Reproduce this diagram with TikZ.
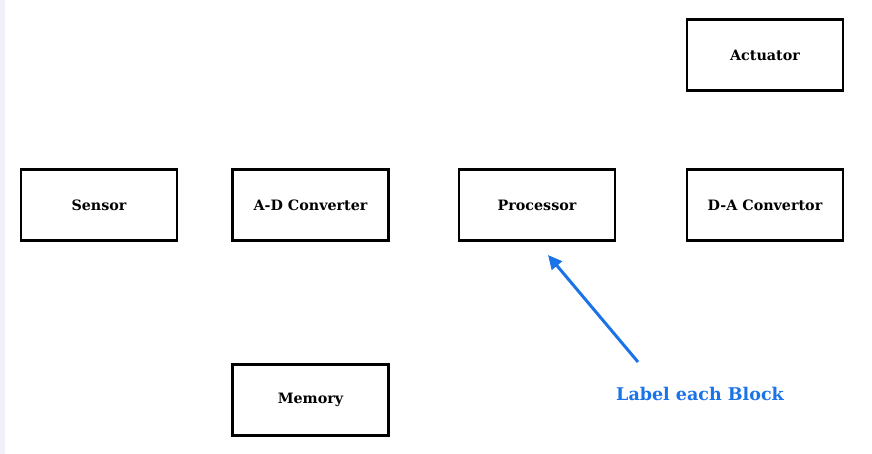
\documentclass[tikz,border=0pt]{standalone}
\usepackage{fontspec}
\setmainfont{DejaVu Serif}
\usetikzlibrary{positioning, arrows.meta}
\definecolor{noteblue}{RGB}{26,115,232}
\definecolor{stripgrey}{RGB}{240,241,248}
\tikzset{
	block/.style={draw, rectangle, line width=2.2pt, minimum width=156pt, minimum height=71pt, font=\fontsize{14.3}{16}\selectfont\bfseries},
}

\begin{document}
\begin{tikzpicture}[x=1pt, y=1pt, >={Triangle[length=14pt, width=13pt]}]
		\useasboundingbox (0, 0) rectangle (872, -454);
		\fill[stripgrey] (0, 0) rectangle (5, -454);
		\node[block] (sensor) at (99, -205) {Sensor};
		\node[block] (adc) at (310.5, -205) {A-D Converter};
		\node[block] (processor) at (537, -205) {Processor};
		\node[block] (dac) at (765, -205) {D-A Convertor};
		\node[block] (actuator) at (765, -55) {Actuator};
		\node[block] (memory) at (310.5, -400) {Memory};
		\node[text=noteblue, font=\fontsize{17.5}{20}\selectfont\bfseries] (note) at (700, -394) {Label each Block};
		\coordinate (tail) at (638, -362);
		\coordinate (head) at (548, -255);
		\draw[->, noteblue, line width=3pt] (tail) -- (head);
	\end{tikzpicture}
\end{document}
